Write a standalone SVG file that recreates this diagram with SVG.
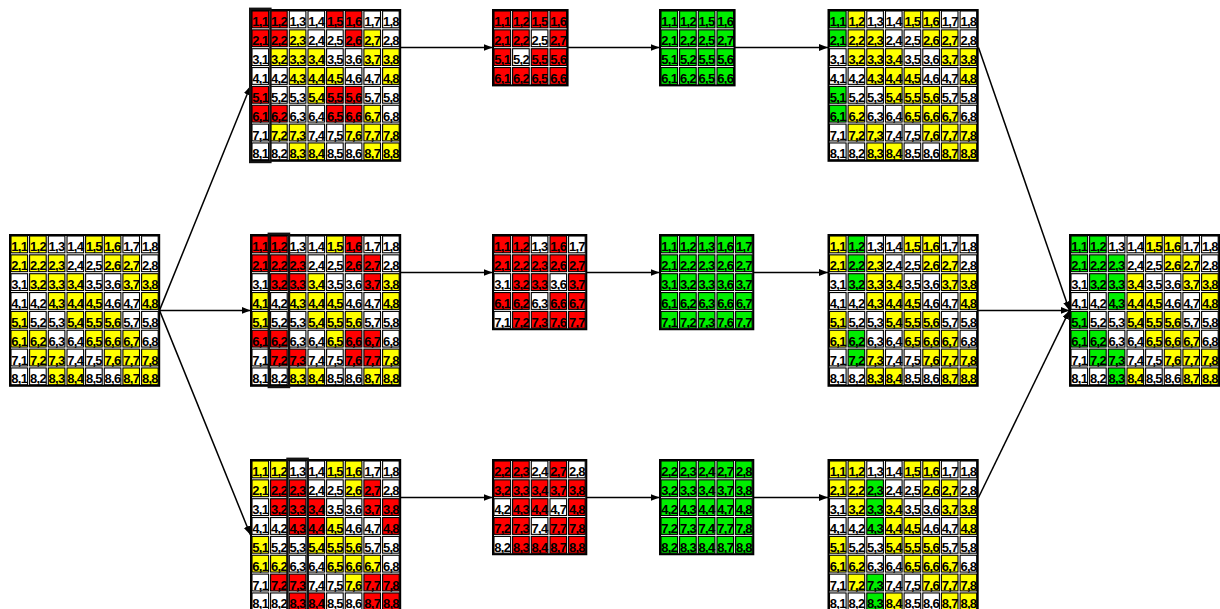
<svg xmlns="http://www.w3.org/2000/svg" xmlns:xlink="http://www.w3.org/1999/xlink" width="1220" height="609" viewBox="0 0 1220 609">
<style>
text{font-family:"Liberation Sans",Arial,sans-serif;font-weight:bold;font-size:13px;letter-spacing:-0.7px;text-anchor:middle;fill:#000}
.bd{fill:none;stroke:#000;stroke-width:2}
.hl{fill:none;stroke:#111;stroke-width:2.4}
.cn{fill:none;stroke:#000;stroke-width:1.5;marker-end:url(#ah)}
</style>
<defs>
<rect id="w" x="1" y="-15.4" width="16.6" height="16.8" fill="#fff" stroke="#000" stroke-width="1.1"/>
<rect id="y" x="1" y="-15.4" width="16.6" height="16.8" fill="#ffff00" stroke="#000" stroke-width="1.1"/>
<rect id="r" x="1" y="-15.4" width="16.6" height="16.8" fill="#ff0000" stroke="#000" stroke-width="1.1"/>
<rect id="g" x="1" y="-15.4" width="16.6" height="16.8" fill="#00ee00" stroke="#000" stroke-width="1.1"/>
<marker id="ah" markerUnits="userSpaceOnUse" markerWidth="10" markerHeight="8" refX="9" refY="3.5" orient="auto"><path d="M0,0 L9,3.5 L0,7 z" fill="#000"/></marker>
</defs>
<rect width="1220" height="609" fill="#fff"/>

<g id="connectors">
<path class="cn" d="M159.5,310.4 L250.5,86"/>
<path class="cn" d="M159.5,310.4 L250.5,310.4"/>
<path class="cn" d="M159.5,310.4 L250.5,535"/>
<path class="cn" d="M400.5,47.5 L492.5,47.5"/>
<path class="cn" d="M400.5,272.5 L492.5,272.5"/>
<path class="cn" d="M400.5,497.5 L492.5,497.5"/>
<path class="cn" d="M567.8,47.5 L659.5,47.5"/>
<path class="cn" d="M586.5,272.5 L659.5,272.5"/>
<path class="cn" d="M586.5,497.5 L659.5,497.5"/>
<path class="cn" d="M734.8,47.5 L828,47.5"/>
<path class="cn" d="M753.5,272.5 L828,272.5"/>
<path class="cn" d="M753.5,497.5 L828,497.5"/>
<path class="cn" d="M978.5,47.5 L1069.5,310.4"/>
<path class="cn" d="M978,310.4 L1069.5,310.4"/>
<path class="cn" d="M978.5,497.5 L1069.5,310.4"/>
</g>

<g id="input" transform="translate(10,235)">
<g transform="translate(0,16.4)"><use href="#y"/><text x="9.3">1,1</text><use href="#y" x="18.6"/><text x="28">1,2</text><use href="#w" x="37.3"/><text x="46.6">1,3</text><use href="#w" x="56"/><text x="65.3">1,4</text><use href="#y" x="74.6"/><text x="83.9">1,5</text><use href="#y" x="93.3"/><text x="102.6">1,6</text><use href="#w" x="111.9"/><text x="121.2">1,7</text><use href="#w" x="130.6"/><text x="139.9">1,8</text></g>
<g transform="translate(0,35.25)"><use href="#y"/><text x="9.3">2,1</text><use href="#y" x="18.6"/><text x="28">2,2</text><use href="#y" x="37.3"/><text x="46.6">2,3</text><use href="#w" x="56"/><text x="65.3">2,4</text><use href="#w" x="74.6"/><text x="83.9">2,5</text><use href="#y" x="93.3"/><text x="102.6">2,6</text><use href="#y" x="111.9"/><text x="121.2">2,7</text><use href="#w" x="130.6"/><text x="139.9">2,8</text></g>
<g transform="translate(0,54.1)"><use href="#w"/><text x="9.3">3,1</text><use href="#y" x="18.6"/><text x="28">3,2</text><use href="#y" x="37.3"/><text x="46.6">3,3</text><use href="#y" x="56"/><text x="65.3">3,4</text><use href="#w" x="74.6"/><text x="83.9">3,5</text><use href="#w" x="93.3"/><text x="102.6">3,6</text><use href="#y" x="111.9"/><text x="121.2">3,7</text><use href="#y" x="130.6"/><text x="139.9">3,8</text></g>
<g transform="translate(0,72.95)"><use href="#w"/><text x="9.3">4,1</text><use href="#w" x="18.6"/><text x="28">4,2</text><use href="#y" x="37.3"/><text x="46.6">4,3</text><use href="#y" x="56"/><text x="65.3">4,4</text><use href="#y" x="74.6"/><text x="83.9">4,5</text><use href="#w" x="93.3"/><text x="102.6">4,6</text><use href="#w" x="111.9"/><text x="121.2">4,7</text><use href="#y" x="130.6"/><text x="139.9">4,8</text></g>
<g transform="translate(0,91.8)"><use href="#y"/><text x="9.3">5,1</text><use href="#w" x="18.6"/><text x="28">5,2</text><use href="#w" x="37.3"/><text x="46.6">5,3</text><use href="#y" x="56"/><text x="65.3">5,4</text><use href="#y" x="74.6"/><text x="83.9">5,5</text><use href="#y" x="93.3"/><text x="102.6">5,6</text><use href="#w" x="111.9"/><text x="121.2">5,7</text><use href="#w" x="130.6"/><text x="139.9">5,8</text></g>
<g transform="translate(0,110.65)"><use href="#y"/><text x="9.3">6,1</text><use href="#y" x="18.6"/><text x="28">6,2</text><use href="#w" x="37.3"/><text x="46.6">6,3</text><use href="#w" x="56"/><text x="65.3">6,4</text><use href="#y" x="74.6"/><text x="83.9">6,5</text><use href="#y" x="93.3"/><text x="102.6">6,6</text><use href="#y" x="111.9"/><text x="121.2">6,7</text><use href="#w" x="130.6"/><text x="139.9">6,8</text></g>
<g transform="translate(0,129.5)"><use href="#w"/><text x="9.3">7,1</text><use href="#y" x="18.6"/><text x="28">7,2</text><use href="#y" x="37.3"/><text x="46.6">7,3</text><use href="#w" x="56"/><text x="65.3">7,4</text><use href="#w" x="74.6"/><text x="83.9">7,5</text><use href="#y" x="93.3"/><text x="102.6">7,6</text><use href="#y" x="111.9"/><text x="121.2">7,7</text><use href="#y" x="130.6"/><text x="139.9">7,8</text></g>
<g transform="translate(0,148.35)"><use href="#w"/><text x="9.3">8,1</text><use href="#w" x="18.6"/><text x="28">8,2</text><use href="#y" x="37.3"/><text x="46.6">8,3</text><use href="#y" x="56"/><text x="65.3">8,4</text><use href="#w" x="74.6"/><text x="83.9">8,5</text><use href="#w" x="93.3"/><text x="102.6">8,6</text><use href="#y" x="111.9"/><text x="121.2">8,7</text><use href="#y" x="130.6"/><text x="139.9">8,8</text></g>
<rect class="bd" width="149.2" height="150.8"/>
</g>

<g id="split-top" transform="translate(251,10)">
<g transform="translate(0,16.4)"><use href="#r"/><text x="9.3">1,1</text><use href="#r" x="18.6"/><text x="28">1,2</text><use href="#w" x="37.3"/><text x="46.6">1,3</text><use href="#w" x="56"/><text x="65.3">1,4</text><use href="#r" x="74.6"/><text x="83.9">1,5</text><use href="#r" x="93.3"/><text x="102.6">1,6</text><use href="#w" x="111.9"/><text x="121.2">1,7</text><use href="#w" x="130.6"/><text x="139.9">1,8</text></g>
<g transform="translate(0,35.25)"><use href="#r"/><text x="9.3">2,1</text><use href="#r" x="18.6"/><text x="28">2,2</text><use href="#y" x="37.3"/><text x="46.6">2,3</text><use href="#w" x="56"/><text x="65.3">2,4</text><use href="#w" x="74.6"/><text x="83.9">2,5</text><use href="#r" x="93.3"/><text x="102.6">2,6</text><use href="#y" x="111.9"/><text x="121.2">2,7</text><use href="#w" x="130.6"/><text x="139.9">2,8</text></g>
<g transform="translate(0,54.1)"><use href="#w"/><text x="9.3">3,1</text><use href="#y" x="18.6"/><text x="28">3,2</text><use href="#y" x="37.3"/><text x="46.6">3,3</text><use href="#y" x="56"/><text x="65.3">3,4</text><use href="#w" x="74.6"/><text x="83.9">3,5</text><use href="#w" x="93.3"/><text x="102.6">3,6</text><use href="#y" x="111.9"/><text x="121.2">3,7</text><use href="#y" x="130.6"/><text x="139.9">3,8</text></g>
<g transform="translate(0,72.95)"><use href="#w"/><text x="9.3">4,1</text><use href="#w" x="18.6"/><text x="28">4,2</text><use href="#y" x="37.3"/><text x="46.6">4,3</text><use href="#y" x="56"/><text x="65.3">4,4</text><use href="#y" x="74.6"/><text x="83.9">4,5</text><use href="#w" x="93.3"/><text x="102.6">4,6</text><use href="#w" x="111.9"/><text x="121.2">4,7</text><use href="#y" x="130.6"/><text x="139.9">4,8</text></g>
<g transform="translate(0,91.8)"><use href="#r"/><text x="9.3">5,1</text><use href="#w" x="18.6"/><text x="28">5,2</text><use href="#w" x="37.3"/><text x="46.6">5,3</text><use href="#y" x="56"/><text x="65.3">5,4</text><use href="#r" x="74.6"/><text x="83.9">5,5</text><use href="#r" x="93.3"/><text x="102.6">5,6</text><use href="#w" x="111.9"/><text x="121.2">5,7</text><use href="#w" x="130.6"/><text x="139.9">5,8</text></g>
<g transform="translate(0,110.65)"><use href="#r"/><text x="9.3">6,1</text><use href="#r" x="18.6"/><text x="28">6,2</text><use href="#w" x="37.3"/><text x="46.6">6,3</text><use href="#w" x="56"/><text x="65.3">6,4</text><use href="#r" x="74.6"/><text x="83.9">6,5</text><use href="#r" x="93.3"/><text x="102.6">6,6</text><use href="#y" x="111.9"/><text x="121.2">6,7</text><use href="#w" x="130.6"/><text x="139.9">6,8</text></g>
<g transform="translate(0,129.5)"><use href="#w"/><text x="9.3">7,1</text><use href="#y" x="18.6"/><text x="28">7,2</text><use href="#y" x="37.3"/><text x="46.6">7,3</text><use href="#w" x="56"/><text x="65.3">7,4</text><use href="#w" x="74.6"/><text x="83.9">7,5</text><use href="#y" x="93.3"/><text x="102.6">7,6</text><use href="#y" x="111.9"/><text x="121.2">7,7</text><use href="#y" x="130.6"/><text x="139.9">7,8</text></g>
<g transform="translate(0,148.35)"><use href="#w"/><text x="9.3">8,1</text><use href="#w" x="18.6"/><text x="28">8,2</text><use href="#y" x="37.3"/><text x="46.6">8,3</text><use href="#y" x="56"/><text x="65.3">8,4</text><use href="#w" x="74.6"/><text x="83.9">8,5</text><use href="#w" x="93.3"/><text x="102.6">8,6</text><use href="#y" x="111.9"/><text x="121.2">8,7</text><use href="#y" x="130.6"/><text x="139.9">8,8</text></g>
<rect class="bd" width="149.2" height="150.8"/>
<rect class="hl" x="-0.8" y="-1.2" width="20.2" height="153.2"/>
</g>

<g id="split-mid" transform="translate(251,235)">
<g transform="translate(0,16.4)"><use href="#r"/><text x="9.3">1,1</text><use href="#r" x="18.6"/><text x="28">1,2</text><use href="#w" x="37.3"/><text x="46.6">1,3</text><use href="#w" x="56"/><text x="65.3">1,4</text><use href="#y" x="74.6"/><text x="83.9">1,5</text><use href="#r" x="93.3"/><text x="102.6">1,6</text><use href="#w" x="111.9"/><text x="121.2">1,7</text><use href="#w" x="130.6"/><text x="139.9">1,8</text></g>
<g transform="translate(0,35.25)"><use href="#r"/><text x="9.3">2,1</text><use href="#r" x="18.6"/><text x="28">2,2</text><use href="#r" x="37.3"/><text x="46.6">2,3</text><use href="#w" x="56"/><text x="65.3">2,4</text><use href="#w" x="74.6"/><text x="83.9">2,5</text><use href="#r" x="93.3"/><text x="102.6">2,6</text><use href="#r" x="111.9"/><text x="121.2">2,7</text><use href="#w" x="130.6"/><text x="139.9">2,8</text></g>
<g transform="translate(0,54.1)"><use href="#w"/><text x="9.3">3,1</text><use href="#r" x="18.6"/><text x="28">3,2</text><use href="#r" x="37.3"/><text x="46.6">3,3</text><use href="#y" x="56"/><text x="65.3">3,4</text><use href="#w" x="74.6"/><text x="83.9">3,5</text><use href="#w" x="93.3"/><text x="102.6">3,6</text><use href="#r" x="111.9"/><text x="121.2">3,7</text><use href="#y" x="130.6"/><text x="139.9">3,8</text></g>
<g transform="translate(0,72.95)"><use href="#y"/><text x="9.3">4,1</text><use href="#w" x="18.6"/><text x="28">4,2</text><use href="#y" x="37.3"/><text x="46.6">4,3</text><use href="#y" x="56"/><text x="65.3">4,4</text><use href="#y" x="74.6"/><text x="83.9">4,5</text><use href="#w" x="93.3"/><text x="102.6">4,6</text><use href="#w" x="111.9"/><text x="121.2">4,7</text><use href="#y" x="130.6"/><text x="139.9">4,8</text></g>
<g transform="translate(0,91.8)"><use href="#y"/><text x="9.3">5,1</text><use href="#w" x="18.6"/><text x="28">5,2</text><use href="#w" x="37.3"/><text x="46.6">5,3</text><use href="#y" x="56"/><text x="65.3">5,4</text><use href="#y" x="74.6"/><text x="83.9">5,5</text><use href="#y" x="93.3"/><text x="102.6">5,6</text><use href="#w" x="111.9"/><text x="121.2">5,7</text><use href="#w" x="130.6"/><text x="139.9">5,8</text></g>
<g transform="translate(0,110.65)"><use href="#r"/><text x="9.3">6,1</text><use href="#r" x="18.6"/><text x="28">6,2</text><use href="#w" x="37.3"/><text x="46.6">6,3</text><use href="#w" x="56"/><text x="65.3">6,4</text><use href="#y" x="74.6"/><text x="83.9">6,5</text><use href="#r" x="93.3"/><text x="102.6">6,6</text><use href="#r" x="111.9"/><text x="121.2">6,7</text><use href="#w" x="130.6"/><text x="139.9">6,8</text></g>
<g transform="translate(0,129.5)"><use href="#w"/><text x="9.3">7,1</text><use href="#r" x="18.6"/><text x="28">7,2</text><use href="#r" x="37.3"/><text x="46.6">7,3</text><use href="#w" x="56"/><text x="65.3">7,4</text><use href="#w" x="74.6"/><text x="83.9">7,5</text><use href="#r" x="93.3"/><text x="102.6">7,6</text><use href="#r" x="111.9"/><text x="121.2">7,7</text><use href="#y" x="130.6"/><text x="139.9">7,8</text></g>
<g transform="translate(0,148.35)"><use href="#w"/><text x="9.3">8,1</text><use href="#w" x="18.6"/><text x="28">8,2</text><use href="#y" x="37.3"/><text x="46.6">8,3</text><use href="#y" x="56"/><text x="65.3">8,4</text><use href="#w" x="74.6"/><text x="83.9">8,5</text><use href="#w" x="93.3"/><text x="102.6">8,6</text><use href="#y" x="111.9"/><text x="121.2">8,7</text><use href="#y" x="130.6"/><text x="139.9">8,8</text></g>
<rect class="bd" width="149.2" height="150.8"/>
<rect class="hl" x="17.8" y="-1.2" width="20.2" height="153.2"/>
</g>

<g id="split-bot" transform="translate(251,460)">
<g transform="translate(0,16.4)"><use href="#y"/><text x="9.3">1,1</text><use href="#y" x="18.6"/><text x="28">1,2</text><use href="#w" x="37.3"/><text x="46.6">1,3</text><use href="#w" x="56"/><text x="65.3">1,4</text><use href="#y" x="74.6"/><text x="83.9">1,5</text><use href="#y" x="93.3"/><text x="102.6">1,6</text><use href="#w" x="111.9"/><text x="121.2">1,7</text><use href="#w" x="130.6"/><text x="139.9">1,8</text></g>
<g transform="translate(0,35.25)"><use href="#y"/><text x="9.3">2,1</text><use href="#r" x="18.6"/><text x="28">2,2</text><use href="#r" x="37.3"/><text x="46.6">2,3</text><use href="#w" x="56"/><text x="65.3">2,4</text><use href="#w" x="74.6"/><text x="83.9">2,5</text><use href="#y" x="93.3"/><text x="102.6">2,6</text><use href="#r" x="111.9"/><text x="121.2">2,7</text><use href="#w" x="130.6"/><text x="139.9">2,8</text></g>
<g transform="translate(0,54.1)"><use href="#w"/><text x="9.3">3,1</text><use href="#r" x="18.6"/><text x="28">3,2</text><use href="#r" x="37.3"/><text x="46.6">3,3</text><use href="#r" x="56"/><text x="65.3">3,4</text><use href="#w" x="74.6"/><text x="83.9">3,5</text><use href="#w" x="93.3"/><text x="102.6">3,6</text><use href="#r" x="111.9"/><text x="121.2">3,7</text><use href="#r" x="130.6"/><text x="139.9">3,8</text></g>
<g transform="translate(0,72.95)"><use href="#w"/><text x="9.3">4,1</text><use href="#w" x="18.6"/><text x="28">4,2</text><use href="#r" x="37.3"/><text x="46.6">4,3</text><use href="#r" x="56"/><text x="65.3">4,4</text><use href="#y" x="74.6"/><text x="83.9">4,5</text><use href="#w" x="93.3"/><text x="102.6">4,6</text><use href="#w" x="111.9"/><text x="121.2">4,7</text><use href="#r" x="130.6"/><text x="139.9">4,8</text></g>
<g transform="translate(0,91.8)"><use href="#y"/><text x="9.3">5,1</text><use href="#w" x="18.6"/><text x="28">5,2</text><use href="#w" x="37.3"/><text x="46.6">5,3</text><use href="#y" x="56"/><text x="65.3">5,4</text><use href="#y" x="74.6"/><text x="83.9">5,5</text><use href="#y" x="93.3"/><text x="102.6">5,6</text><use href="#w" x="111.9"/><text x="121.2">5,7</text><use href="#w" x="130.6"/><text x="139.9">5,8</text></g>
<g transform="translate(0,110.65)"><use href="#y"/><text x="9.3">6,1</text><use href="#y" x="18.6"/><text x="28">6,2</text><use href="#w" x="37.3"/><text x="46.6">6,3</text><use href="#w" x="56"/><text x="65.3">6,4</text><use href="#y" x="74.6"/><text x="83.9">6,5</text><use href="#y" x="93.3"/><text x="102.6">6,6</text><use href="#y" x="111.9"/><text x="121.2">6,7</text><use href="#w" x="130.6"/><text x="139.9">6,8</text></g>
<g transform="translate(0,129.5)"><use href="#w"/><text x="9.3">7,1</text><use href="#r" x="18.6"/><text x="28">7,2</text><use href="#r" x="37.3"/><text x="46.6">7,3</text><use href="#w" x="56"/><text x="65.3">7,4</text><use href="#w" x="74.6"/><text x="83.9">7,5</text><use href="#y" x="93.3"/><text x="102.6">7,6</text><use href="#r" x="111.9"/><text x="121.2">7,7</text><use href="#r" x="130.6"/><text x="139.9">7,8</text></g>
<g transform="translate(0,148.35)"><use href="#w"/><text x="9.3">8,1</text><use href="#w" x="18.6"/><text x="28">8,2</text><use href="#r" x="37.3"/><text x="46.6">8,3</text><use href="#r" x="56"/><text x="65.3">8,4</text><use href="#w" x="74.6"/><text x="83.9">8,5</text><use href="#w" x="93.3"/><text x="102.6">8,6</text><use href="#r" x="111.9"/><text x="121.2">8,7</text><use href="#r" x="130.6"/><text x="139.9">8,8</text></g>
<rect class="bd" width="149.2" height="150.8"/>
<rect class="hl" x="36.5" y="-1.2" width="20.2" height="153.2"/>
</g>

<g id="sub-top" transform="translate(493,10)">
<g transform="translate(0,16.4)"><use href="#r"/><text x="9.3">1,1</text><use href="#r" x="18.6"/><text x="28">1,2</text><use href="#r" x="37.3"/><text x="46.6">1,5</text><use href="#r" x="56"/><text x="65.3">1,6</text></g>
<g transform="translate(0,35.25)"><use href="#r"/><text x="9.3">2,1</text><use href="#r" x="18.6"/><text x="28">2,2</text><use href="#w" x="37.3"/><text x="46.6">2,5</text><use href="#r" x="56"/><text x="65.3">2,7</text></g>
<g transform="translate(0,54.1)"><use href="#r"/><text x="9.3">5,1</text><use href="#w" x="18.6"/><text x="28">5,2</text><use href="#r" x="37.3"/><text x="46.6">5,5</text><use href="#r" x="56"/><text x="65.3">5,6</text></g>
<g transform="translate(0,72.95)"><use href="#r"/><text x="9.3">6,1</text><use href="#r" x="18.6"/><text x="28">6,2</text><use href="#r" x="37.3"/><text x="46.6">6,5</text><use href="#r" x="56"/><text x="65.3">6,6</text></g>
<rect class="bd" width="74.6" height="75.4"/>
</g>

<g id="sub-mid" transform="translate(493,235)">
<g transform="translate(0,16.4)"><use href="#r"/><text x="9.3">1,1</text><use href="#r" x="18.6"/><text x="28">1,2</text><use href="#w" x="37.3"/><text x="46.6">1,3</text><use href="#r" x="56"/><text x="65.3">1,6</text><use href="#w" x="74.6"/><text x="83.9">1,7</text></g>
<g transform="translate(0,35.25)"><use href="#r"/><text x="9.3">2,1</text><use href="#r" x="18.6"/><text x="28">2,2</text><use href="#r" x="37.3"/><text x="46.6">2,3</text><use href="#r" x="56"/><text x="65.3">2,6</text><use href="#r" x="74.6"/><text x="83.9">2,7</text></g>
<g transform="translate(0,54.1)"><use href="#w"/><text x="9.3">3,1</text><use href="#r" x="18.6"/><text x="28">3,2</text><use href="#r" x="37.3"/><text x="46.6">3,3</text><use href="#w" x="56"/><text x="65.3">3,6</text><use href="#r" x="74.6"/><text x="83.9">3,7</text></g>
<g transform="translate(0,72.95)"><use href="#r"/><text x="9.3">6,1</text><use href="#r" x="18.6"/><text x="28">6,2</text><use href="#w" x="37.3"/><text x="46.6">6,3</text><use href="#r" x="56"/><text x="65.3">6,6</text><use href="#r" x="74.6"/><text x="83.9">6,7</text></g>
<g transform="translate(0,91.8)"><use href="#w"/><text x="9.3">7,1</text><use href="#r" x="18.6"/><text x="28">7,2</text><use href="#r" x="37.3"/><text x="46.6">7,3</text><use href="#r" x="56"/><text x="65.3">7,6</text><use href="#r" x="74.6"/><text x="83.9">7,7</text></g>
<rect class="bd" width="93.3" height="94.25"/>
</g>

<g id="sub-bot" transform="translate(493,460)">
<g transform="translate(0,16.4)"><use href="#r"/><text x="9.3">2,2</text><use href="#r" x="18.6"/><text x="28">2,3</text><use href="#w" x="37.3"/><text x="46.6">2,4</text><use href="#r" x="56"/><text x="65.3">2,7</text><use href="#w" x="74.6"/><text x="83.9">2,8</text></g>
<g transform="translate(0,35.25)"><use href="#r"/><text x="9.3">3,2</text><use href="#r" x="18.6"/><text x="28">3,3</text><use href="#r" x="37.3"/><text x="46.6">3,4</text><use href="#r" x="56"/><text x="65.3">3,7</text><use href="#r" x="74.6"/><text x="83.9">3,8</text></g>
<g transform="translate(0,54.1)"><use href="#w"/><text x="9.3">4,2</text><use href="#r" x="18.6"/><text x="28">4,3</text><use href="#r" x="37.3"/><text x="46.6">4,4</text><use href="#w" x="56"/><text x="65.3">4,7</text><use href="#r" x="74.6"/><text x="83.9">4,8</text></g>
<g transform="translate(0,72.95)"><use href="#r"/><text x="9.3">7,2</text><use href="#r" x="18.6"/><text x="28">7,3</text><use href="#w" x="37.3"/><text x="46.6">7,4</text><use href="#r" x="56"/><text x="65.3">7,7</text><use href="#r" x="74.6"/><text x="83.9">7,8</text></g>
<g transform="translate(0,91.8)"><use href="#w"/><text x="9.3">8,2</text><use href="#r" x="18.6"/><text x="28">8,3</text><use href="#r" x="37.3"/><text x="46.6">8,4</text><use href="#r" x="56"/><text x="65.3">8,7</text><use href="#r" x="74.6"/><text x="83.9">8,8</text></g>
<rect class="bd" width="93.3" height="94.25"/>
</g>

<g id="solved-top" transform="translate(660,10)">
<g transform="translate(0,16.4)"><use href="#g"/><text x="9.3">1,1</text><use href="#g" x="18.6"/><text x="28">1,2</text><use href="#g" x="37.3"/><text x="46.6">1,5</text><use href="#g" x="56"/><text x="65.3">1,6</text></g>
<g transform="translate(0,35.25)"><use href="#g"/><text x="9.3">2,1</text><use href="#g" x="18.6"/><text x="28">2,2</text><use href="#g" x="37.3"/><text x="46.6">2,5</text><use href="#g" x="56"/><text x="65.3">2,7</text></g>
<g transform="translate(0,54.1)"><use href="#g"/><text x="9.3">5,1</text><use href="#g" x="18.6"/><text x="28">5,2</text><use href="#g" x="37.3"/><text x="46.6">5,5</text><use href="#g" x="56"/><text x="65.3">5,6</text></g>
<g transform="translate(0,72.95)"><use href="#g"/><text x="9.3">6,1</text><use href="#g" x="18.6"/><text x="28">6,2</text><use href="#g" x="37.3"/><text x="46.6">6,5</text><use href="#g" x="56"/><text x="65.3">6,6</text></g>
<rect class="bd" width="74.6" height="75.4"/>
</g>

<g id="solved-mid" transform="translate(660,235)">
<g transform="translate(0,16.4)"><use href="#g"/><text x="9.3">1,1</text><use href="#g" x="18.6"/><text x="28">1,2</text><use href="#g" x="37.3"/><text x="46.6">1,3</text><use href="#g" x="56"/><text x="65.3">1,6</text><use href="#g" x="74.6"/><text x="83.9">1,7</text></g>
<g transform="translate(0,35.25)"><use href="#g"/><text x="9.3">2,1</text><use href="#g" x="18.6"/><text x="28">2,2</text><use href="#g" x="37.3"/><text x="46.6">2,3</text><use href="#g" x="56"/><text x="65.3">2,6</text><use href="#g" x="74.6"/><text x="83.9">2,7</text></g>
<g transform="translate(0,54.1)"><use href="#g"/><text x="9.3">3,1</text><use href="#g" x="18.6"/><text x="28">3,2</text><use href="#g" x="37.3"/><text x="46.6">3,3</text><use href="#g" x="56"/><text x="65.3">3,6</text><use href="#g" x="74.6"/><text x="83.9">3,7</text></g>
<g transform="translate(0,72.95)"><use href="#g"/><text x="9.3">6,1</text><use href="#g" x="18.6"/><text x="28">6,2</text><use href="#g" x="37.3"/><text x="46.6">6,3</text><use href="#g" x="56"/><text x="65.3">6,6</text><use href="#g" x="74.6"/><text x="83.9">6,7</text></g>
<g transform="translate(0,91.8)"><use href="#g"/><text x="9.3">7,1</text><use href="#g" x="18.6"/><text x="28">7,2</text><use href="#g" x="37.3"/><text x="46.6">7,3</text><use href="#g" x="56"/><text x="65.3">7,6</text><use href="#g" x="74.6"/><text x="83.9">7,7</text></g>
<rect class="bd" width="93.3" height="94.25"/>
</g>

<g id="solved-bot" transform="translate(660,460)">
<g transform="translate(0,16.4)"><use href="#g"/><text x="9.3">2,2</text><use href="#g" x="18.6"/><text x="28">2,3</text><use href="#g" x="37.3"/><text x="46.6">2,4</text><use href="#g" x="56"/><text x="65.3">2,7</text><use href="#g" x="74.6"/><text x="83.9">2,8</text></g>
<g transform="translate(0,35.25)"><use href="#g"/><text x="9.3">3,2</text><use href="#g" x="18.6"/><text x="28">3,3</text><use href="#g" x="37.3"/><text x="46.6">3,4</text><use href="#g" x="56"/><text x="65.3">3,7</text><use href="#g" x="74.6"/><text x="83.9">3,8</text></g>
<g transform="translate(0,54.1)"><use href="#g"/><text x="9.3">4,2</text><use href="#g" x="18.6"/><text x="28">4,3</text><use href="#g" x="37.3"/><text x="46.6">4,4</text><use href="#g" x="56"/><text x="65.3">4,7</text><use href="#g" x="74.6"/><text x="83.9">4,8</text></g>
<g transform="translate(0,72.95)"><use href="#g"/><text x="9.3">7,2</text><use href="#g" x="18.6"/><text x="28">7,3</text><use href="#g" x="37.3"/><text x="46.6">7,4</text><use href="#g" x="56"/><text x="65.3">7,7</text><use href="#g" x="74.6"/><text x="83.9">7,8</text></g>
<g transform="translate(0,91.8)"><use href="#g"/><text x="9.3">8,2</text><use href="#g" x="18.6"/><text x="28">8,3</text><use href="#g" x="37.3"/><text x="46.6">8,4</text><use href="#g" x="56"/><text x="65.3">8,7</text><use href="#g" x="74.6"/><text x="83.9">8,8</text></g>
<rect class="bd" width="93.3" height="94.25"/>
</g>

<g id="merged-top" transform="translate(828.5,10)">
<g transform="translate(0,16.4)"><use href="#g"/><text x="9.3">1,1</text><use href="#y" x="18.6"/><text x="28">1,2</text><use href="#w" x="37.3"/><text x="46.6">1,3</text><use href="#w" x="56"/><text x="65.3">1,4</text><use href="#y" x="74.6"/><text x="83.9">1,5</text><use href="#y" x="93.3"/><text x="102.6">1,6</text><use href="#w" x="111.9"/><text x="121.2">1,7</text><use href="#w" x="130.6"/><text x="139.9">1,8</text></g>
<g transform="translate(0,35.25)"><use href="#g"/><text x="9.3">2,1</text><use href="#y" x="18.6"/><text x="28">2,2</text><use href="#y" x="37.3"/><text x="46.6">2,3</text><use href="#w" x="56"/><text x="65.3">2,4</text><use href="#w" x="74.6"/><text x="83.9">2,5</text><use href="#y" x="93.3"/><text x="102.6">2,6</text><use href="#y" x="111.9"/><text x="121.2">2,7</text><use href="#w" x="130.6"/><text x="139.9">2,8</text></g>
<g transform="translate(0,54.1)"><use href="#w"/><text x="9.3">3,1</text><use href="#y" x="18.6"/><text x="28">3,2</text><use href="#y" x="37.3"/><text x="46.6">3,3</text><use href="#y" x="56"/><text x="65.3">3,4</text><use href="#w" x="74.6"/><text x="83.9">3,5</text><use href="#w" x="93.3"/><text x="102.6">3,6</text><use href="#y" x="111.9"/><text x="121.2">3,7</text><use href="#y" x="130.6"/><text x="139.9">3,8</text></g>
<g transform="translate(0,72.95)"><use href="#w"/><text x="9.3">4,1</text><use href="#w" x="18.6"/><text x="28">4,2</text><use href="#y" x="37.3"/><text x="46.6">4,3</text><use href="#y" x="56"/><text x="65.3">4,4</text><use href="#y" x="74.6"/><text x="83.9">4,5</text><use href="#w" x="93.3"/><text x="102.6">4,6</text><use href="#w" x="111.9"/><text x="121.2">4,7</text><use href="#y" x="130.6"/><text x="139.9">4,8</text></g>
<g transform="translate(0,91.8)"><use href="#g"/><text x="9.3">5,1</text><use href="#w" x="18.6"/><text x="28">5,2</text><use href="#w" x="37.3"/><text x="46.6">5,3</text><use href="#y" x="56"/><text x="65.3">5,4</text><use href="#y" x="74.6"/><text x="83.9">5,5</text><use href="#y" x="93.3"/><text x="102.6">5,6</text><use href="#w" x="111.9"/><text x="121.2">5,7</text><use href="#w" x="130.6"/><text x="139.9">5,8</text></g>
<g transform="translate(0,110.65)"><use href="#g"/><text x="9.3">6,1</text><use href="#y" x="18.6"/><text x="28">6,2</text><use href="#w" x="37.3"/><text x="46.6">6,3</text><use href="#w" x="56"/><text x="65.3">6,4</text><use href="#y" x="74.6"/><text x="83.9">6,5</text><use href="#y" x="93.3"/><text x="102.6">6,6</text><use href="#y" x="111.9"/><text x="121.2">6,7</text><use href="#w" x="130.6"/><text x="139.9">6,8</text></g>
<g transform="translate(0,129.5)"><use href="#w"/><text x="9.3">7,1</text><use href="#y" x="18.6"/><text x="28">7,2</text><use href="#y" x="37.3"/><text x="46.6">7,3</text><use href="#w" x="56"/><text x="65.3">7,4</text><use href="#w" x="74.6"/><text x="83.9">7,5</text><use href="#y" x="93.3"/><text x="102.6">7,6</text><use href="#y" x="111.9"/><text x="121.2">7,7</text><use href="#y" x="130.6"/><text x="139.9">7,8</text></g>
<g transform="translate(0,148.35)"><use href="#w"/><text x="9.3">8,1</text><use href="#w" x="18.6"/><text x="28">8,2</text><use href="#y" x="37.3"/><text x="46.6">8,3</text><use href="#y" x="56"/><text x="65.3">8,4</text><use href="#w" x="74.6"/><text x="83.9">8,5</text><use href="#w" x="93.3"/><text x="102.6">8,6</text><use href="#y" x="111.9"/><text x="121.2">8,7</text><use href="#y" x="130.6"/><text x="139.9">8,8</text></g>
<rect class="bd" width="149.2" height="150.8"/>
</g>

<g id="merged-mid" transform="translate(828.5,235)">
<g transform="translate(0,16.4)"><use href="#y"/><text x="9.3">1,1</text><use href="#g" x="18.6"/><text x="28">1,2</text><use href="#w" x="37.3"/><text x="46.6">1,3</text><use href="#w" x="56"/><text x="65.3">1,4</text><use href="#y" x="74.6"/><text x="83.9">1,5</text><use href="#y" x="93.3"/><text x="102.6">1,6</text><use href="#w" x="111.9"/><text x="121.2">1,7</text><use href="#w" x="130.6"/><text x="139.9">1,8</text></g>
<g transform="translate(0,35.25)"><use href="#y"/><text x="9.3">2,1</text><use href="#g" x="18.6"/><text x="28">2,2</text><use href="#y" x="37.3"/><text x="46.6">2,3</text><use href="#w" x="56"/><text x="65.3">2,4</text><use href="#w" x="74.6"/><text x="83.9">2,5</text><use href="#y" x="93.3"/><text x="102.6">2,6</text><use href="#y" x="111.9"/><text x="121.2">2,7</text><use href="#w" x="130.6"/><text x="139.9">2,8</text></g>
<g transform="translate(0,54.1)"><use href="#w"/><text x="9.3">3,1</text><use href="#g" x="18.6"/><text x="28">3,2</text><use href="#y" x="37.3"/><text x="46.6">3,3</text><use href="#y" x="56"/><text x="65.3">3,4</text><use href="#w" x="74.6"/><text x="83.9">3,5</text><use href="#w" x="93.3"/><text x="102.6">3,6</text><use href="#y" x="111.9"/><text x="121.2">3,7</text><use href="#y" x="130.6"/><text x="139.9">3,8</text></g>
<g transform="translate(0,72.95)"><use href="#w"/><text x="9.3">4,1</text><use href="#w" x="18.6"/><text x="28">4,2</text><use href="#y" x="37.3"/><text x="46.6">4,3</text><use href="#y" x="56"/><text x="65.3">4,4</text><use href="#y" x="74.6"/><text x="83.9">4,5</text><use href="#w" x="93.3"/><text x="102.6">4,6</text><use href="#w" x="111.9"/><text x="121.2">4,7</text><use href="#y" x="130.6"/><text x="139.9">4,8</text></g>
<g transform="translate(0,91.8)"><use href="#y"/><text x="9.3">5,1</text><use href="#w" x="18.6"/><text x="28">5,2</text><use href="#w" x="37.3"/><text x="46.6">5,3</text><use href="#y" x="56"/><text x="65.3">5,4</text><use href="#y" x="74.6"/><text x="83.9">5,5</text><use href="#y" x="93.3"/><text x="102.6">5,6</text><use href="#w" x="111.9"/><text x="121.2">5,7</text><use href="#w" x="130.6"/><text x="139.9">5,8</text></g>
<g transform="translate(0,110.65)"><use href="#y"/><text x="9.3">6,1</text><use href="#g" x="18.6"/><text x="28">6,2</text><use href="#w" x="37.3"/><text x="46.6">6,3</text><use href="#w" x="56"/><text x="65.3">6,4</text><use href="#y" x="74.6"/><text x="83.9">6,5</text><use href="#y" x="93.3"/><text x="102.6">6,6</text><use href="#y" x="111.9"/><text x="121.2">6,7</text><use href="#w" x="130.6"/><text x="139.9">6,8</text></g>
<g transform="translate(0,129.5)"><use href="#w"/><text x="9.3">7,1</text><use href="#g" x="18.6"/><text x="28">7,2</text><use href="#y" x="37.3"/><text x="46.6">7,3</text><use href="#w" x="56"/><text x="65.3">7,4</text><use href="#w" x="74.6"/><text x="83.9">7,5</text><use href="#y" x="93.3"/><text x="102.6">7,6</text><use href="#y" x="111.9"/><text x="121.2">7,7</text><use href="#y" x="130.6"/><text x="139.9">7,8</text></g>
<g transform="translate(0,148.35)"><use href="#w"/><text x="9.3">8,1</text><use href="#w" x="18.6"/><text x="28">8,2</text><use href="#y" x="37.3"/><text x="46.6">8,3</text><use href="#y" x="56"/><text x="65.3">8,4</text><use href="#w" x="74.6"/><text x="83.9">8,5</text><use href="#w" x="93.3"/><text x="102.6">8,6</text><use href="#y" x="111.9"/><text x="121.2">8,7</text><use href="#y" x="130.6"/><text x="139.9">8,8</text></g>
<rect class="bd" width="149.2" height="150.8"/>
</g>

<g id="merged-bot" transform="translate(828.5,460)">
<g transform="translate(0,16.4)"><use href="#y"/><text x="9.3">1,1</text><use href="#y" x="18.6"/><text x="28">1,2</text><use href="#w" x="37.3"/><text x="46.6">1,3</text><use href="#w" x="56"/><text x="65.3">1,4</text><use href="#y" x="74.6"/><text x="83.9">1,5</text><use href="#y" x="93.3"/><text x="102.6">1,6</text><use href="#w" x="111.9"/><text x="121.2">1,7</text><use href="#w" x="130.6"/><text x="139.9">1,8</text></g>
<g transform="translate(0,35.25)"><use href="#y"/><text x="9.3">2,1</text><use href="#y" x="18.6"/><text x="28">2,2</text><use href="#g" x="37.3"/><text x="46.6">2,3</text><use href="#w" x="56"/><text x="65.3">2,4</text><use href="#w" x="74.6"/><text x="83.9">2,5</text><use href="#y" x="93.3"/><text x="102.6">2,6</text><use href="#y" x="111.9"/><text x="121.2">2,7</text><use href="#w" x="130.6"/><text x="139.9">2,8</text></g>
<g transform="translate(0,54.1)"><use href="#w"/><text x="9.3">3,1</text><use href="#y" x="18.6"/><text x="28">3,2</text><use href="#g" x="37.3"/><text x="46.6">3,3</text><use href="#y" x="56"/><text x="65.3">3,4</text><use href="#w" x="74.6"/><text x="83.9">3,5</text><use href="#w" x="93.3"/><text x="102.6">3,6</text><use href="#y" x="111.9"/><text x="121.2">3,7</text><use href="#y" x="130.6"/><text x="139.9">3,8</text></g>
<g transform="translate(0,72.95)"><use href="#w"/><text x="9.3">4,1</text><use href="#w" x="18.6"/><text x="28">4,2</text><use href="#g" x="37.3"/><text x="46.6">4,3</text><use href="#y" x="56"/><text x="65.3">4,4</text><use href="#y" x="74.6"/><text x="83.9">4,5</text><use href="#w" x="93.3"/><text x="102.6">4,6</text><use href="#w" x="111.9"/><text x="121.2">4,7</text><use href="#y" x="130.6"/><text x="139.9">4,8</text></g>
<g transform="translate(0,91.8)"><use href="#y"/><text x="9.3">5,1</text><use href="#w" x="18.6"/><text x="28">5,2</text><use href="#w" x="37.3"/><text x="46.6">5,3</text><use href="#y" x="56"/><text x="65.3">5,4</text><use href="#y" x="74.6"/><text x="83.9">5,5</text><use href="#y" x="93.3"/><text x="102.6">5,6</text><use href="#w" x="111.9"/><text x="121.2">5,7</text><use href="#w" x="130.6"/><text x="139.9">5,8</text></g>
<g transform="translate(0,110.65)"><use href="#y"/><text x="9.3">6,1</text><use href="#y" x="18.6"/><text x="28">6,2</text><use href="#w" x="37.3"/><text x="46.6">6,3</text><use href="#w" x="56"/><text x="65.3">6,4</text><use href="#y" x="74.6"/><text x="83.9">6,5</text><use href="#y" x="93.3"/><text x="102.6">6,6</text><use href="#y" x="111.9"/><text x="121.2">6,7</text><use href="#w" x="130.6"/><text x="139.9">6,8</text></g>
<g transform="translate(0,129.5)"><use href="#w"/><text x="9.3">7,1</text><use href="#y" x="18.6"/><text x="28">7,2</text><use href="#g" x="37.3"/><text x="46.6">7,3</text><use href="#w" x="56"/><text x="65.3">7,4</text><use href="#w" x="74.6"/><text x="83.9">7,5</text><use href="#y" x="93.3"/><text x="102.6">7,6</text><use href="#y" x="111.9"/><text x="121.2">7,7</text><use href="#y" x="130.6"/><text x="139.9">7,8</text></g>
<g transform="translate(0,148.35)"><use href="#w"/><text x="9.3">8,1</text><use href="#w" x="18.6"/><text x="28">8,2</text><use href="#g" x="37.3"/><text x="46.6">8,3</text><use href="#y" x="56"/><text x="65.3">8,4</text><use href="#w" x="74.6"/><text x="83.9">8,5</text><use href="#w" x="93.3"/><text x="102.6">8,6</text><use href="#y" x="111.9"/><text x="121.2">8,7</text><use href="#y" x="130.6"/><text x="139.9">8,8</text></g>
<rect class="bd" width="149.2" height="150.8"/>
</g>

<g id="result" transform="translate(1070,235)">
<g transform="translate(0,16.4)"><use href="#g"/><text x="9.3">1,1</text><use href="#g" x="18.6"/><text x="28">1,2</text><use href="#w" x="37.3"/><text x="46.6">1,3</text><use href="#w" x="56"/><text x="65.3">1,4</text><use href="#y" x="74.6"/><text x="83.9">1,5</text><use href="#y" x="93.3"/><text x="102.6">1,6</text><use href="#w" x="111.9"/><text x="121.2">1,7</text><use href="#w" x="130.6"/><text x="139.9">1,8</text></g>
<g transform="translate(0,35.25)"><use href="#g"/><text x="9.3">2,1</text><use href="#g" x="18.6"/><text x="28">2,2</text><use href="#g" x="37.3"/><text x="46.6">2,3</text><use href="#w" x="56"/><text x="65.3">2,4</text><use href="#w" x="74.6"/><text x="83.9">2,5</text><use href="#y" x="93.3"/><text x="102.6">2,6</text><use href="#y" x="111.9"/><text x="121.2">2,7</text><use href="#w" x="130.6"/><text x="139.9">2,8</text></g>
<g transform="translate(0,54.1)"><use href="#w"/><text x="9.3">3,1</text><use href="#g" x="18.6"/><text x="28">3,2</text><use href="#g" x="37.3"/><text x="46.6">3,3</text><use href="#y" x="56"/><text x="65.3">3,4</text><use href="#w" x="74.6"/><text x="83.9">3,5</text><use href="#w" x="93.3"/><text x="102.6">3,6</text><use href="#y" x="111.9"/><text x="121.2">3,7</text><use href="#y" x="130.6"/><text x="139.9">3,8</text></g>
<g transform="translate(0,72.95)"><use href="#w"/><text x="9.3">4,1</text><use href="#w" x="18.6"/><text x="28">4,2</text><use href="#g" x="37.3"/><text x="46.6">4,3</text><use href="#y" x="56"/><text x="65.3">4,4</text><use href="#y" x="74.6"/><text x="83.9">4,5</text><use href="#w" x="93.3"/><text x="102.6">4,6</text><use href="#w" x="111.9"/><text x="121.2">4,7</text><use href="#y" x="130.6"/><text x="139.9">4,8</text></g>
<g transform="translate(0,91.8)"><use href="#g"/><text x="9.3">5,1</text><use href="#w" x="18.6"/><text x="28">5,2</text><use href="#w" x="37.3"/><text x="46.6">5,3</text><use href="#y" x="56"/><text x="65.3">5,4</text><use href="#y" x="74.6"/><text x="83.9">5,5</text><use href="#y" x="93.3"/><text x="102.6">5,6</text><use href="#w" x="111.9"/><text x="121.2">5,7</text><use href="#w" x="130.6"/><text x="139.9">5,8</text></g>
<g transform="translate(0,110.65)"><use href="#g"/><text x="9.3">6,1</text><use href="#g" x="18.6"/><text x="28">6,2</text><use href="#w" x="37.3"/><text x="46.6">6,3</text><use href="#w" x="56"/><text x="65.3">6,4</text><use href="#y" x="74.6"/><text x="83.9">6,5</text><use href="#y" x="93.3"/><text x="102.6">6,6</text><use href="#y" x="111.9"/><text x="121.2">6,7</text><use href="#w" x="130.6"/><text x="139.9">6,8</text></g>
<g transform="translate(0,129.5)"><use href="#w"/><text x="9.3">7,1</text><use href="#g" x="18.6"/><text x="28">7,2</text><use href="#g" x="37.3"/><text x="46.6">7,3</text><use href="#w" x="56"/><text x="65.3">7,4</text><use href="#w" x="74.6"/><text x="83.9">7,5</text><use href="#y" x="93.3"/><text x="102.6">7,6</text><use href="#y" x="111.9"/><text x="121.2">7,7</text><use href="#y" x="130.6"/><text x="139.9">7,8</text></g>
<g transform="translate(0,148.35)"><use href="#w"/><text x="9.3">8,1</text><use href="#w" x="18.6"/><text x="28">8,2</text><use href="#g" x="37.3"/><text x="46.6">8,3</text><use href="#y" x="56"/><text x="65.3">8,4</text><use href="#w" x="74.6"/><text x="83.9">8,5</text><use href="#w" x="93.3"/><text x="102.6">8,6</text><use href="#y" x="111.9"/><text x="121.2">8,7</text><use href="#y" x="130.6"/><text x="139.9">8,8</text></g>
<rect class="bd" width="149.2" height="150.8"/>
</g>
</svg>
